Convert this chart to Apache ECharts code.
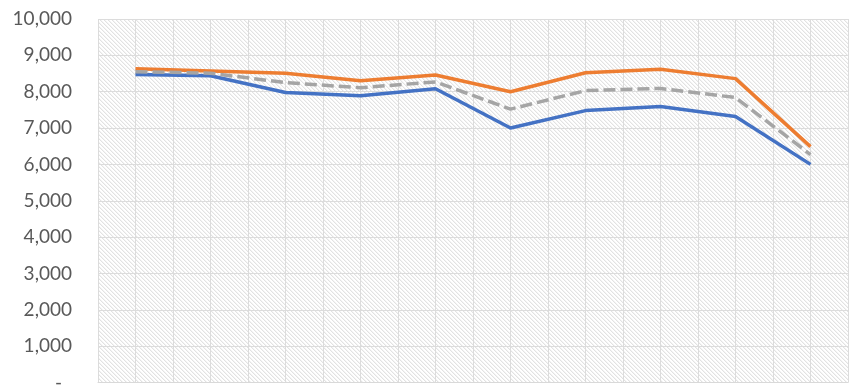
<!DOCTYPE html>
<html>
<head>
<meta charset="utf-8">
<script src="https://cdn.jsdelivr.net/npm/echarts@6/dist/echarts.min.js"></script>
<style>
html,body{margin:0;padding:0;background:#fff;}
#chart{width:850px;height:392px;}
</style>
</head>
<body>
<div id="chart"></div>
<script>
const categories = ['1','2','3','4','5','6','7','8','9','10'];
const seriesBlue = [8470, 8440, 7980, 7890, 8080, 7000, 7480, 7590, 7320, 6000];
const seriesOrange = [8630, 8570, 8510, 8300, 8460, 8000, 8520, 8620, 8360, 6490];
const seriesGray = [8550, 8510, 8250, 8110, 8270, 7520, 8030, 8090, 7840, 6270];
const yTicks = [0, 1000, 2000, 3000, 4000, 5000, 6000, 7000, 8000, 9000, 10000];

// diagonal hatch pattern
const P = 4;
const pc = document.createElement('canvas');
pc.width = P; pc.height = P;
const pctx = pc.getContext('2d');
const img = pctx.createImageData(P, P);
for (let y = 0; y < P; y++) {
  for (let x = 0; x < P; x++) {
    const d = ((x - y) % P + P) % P;
    let v = 255;
    if (d === 0) v = 226;
    else if (d === 1) v = 244;
    const i = (y * P + x) * 4;
    img.data[i] = v; img.data[i+1] = v; img.data[i+2] = v; img.data[i+3] = 255;
  }
}
pctx.putImageData(img, 0, 0);

const chart = echarts.init(document.getElementById('chart'), null, {renderer: 'canvas'});
const option = {
  animation: false,
  grid: {
    left: 98, right: 2, top: 19, bottom: 8,
    show: true,
    backgroundColor: {image: pc, repeat: 'repeat'},
    borderWidth: 0
  },
  xAxis: [
    {
      type: 'category',
      data: categories,
      boundaryGap: true,
      axisLine: {show: true, lineStyle: {color: '#d9d9d9', width: 1}},
      axisTick: {show: false},
      axisLabel: {show: false},
      splitLine: {show: false}
    },
    {
      type: 'value',
      min: 0, max: 20, interval: 1,
      position: 'bottom',
      axisLine: {show: false},
      axisTick: {show: false},
      axisLabel: {show: false},
      splitLine: {show: true, lineStyle: {color: '#dcdcdc', width: 1}}
    }
  ],
  yAxis: {
    type: 'value',
    min: yTicks[0], max: yTicks[yTicks.length - 1], interval: 1000,
    axisLine: {show: false},
    axisTick: {show: false},
    axisLabel: {
      margin: 26,
      color: '#595959',
      fontFamily: 'Lato',
      fontSize: 19,
      formatter: function (v) {
        if (v === 0) return '{d|-}';
        return v.toLocaleString('en-US');
      },
      rich: {
        d: {color: '#595959', fontFamily: 'Lato', fontSize: 19, padding: [0, 10, 0, 0]}
      }
    },
    splitLine: {show: true, lineStyle: {color: '#dcdcdc', width: 1}}
  },
  series: [
    {
      type: 'line', data: seriesBlue, xAxisIndex: 0,
      symbol: 'none', lineStyle: {color: '#4472C4', width: 3.5}
    },
    {
      type: 'line', data: seriesOrange, xAxisIndex: 0,
      symbol: 'none', lineStyle: {color: '#ED7D31', width: 3.5}
    },
    {
      type: 'line', data: seriesGray, xAxisIndex: 0,
      symbol: 'none', lineStyle: {color: '#A5A5A5', width: 3.5, type: [12, 5], cap: 'butt'}
    }
  ]
};
chart.setOption(option);
</script>
</body>
</html>
